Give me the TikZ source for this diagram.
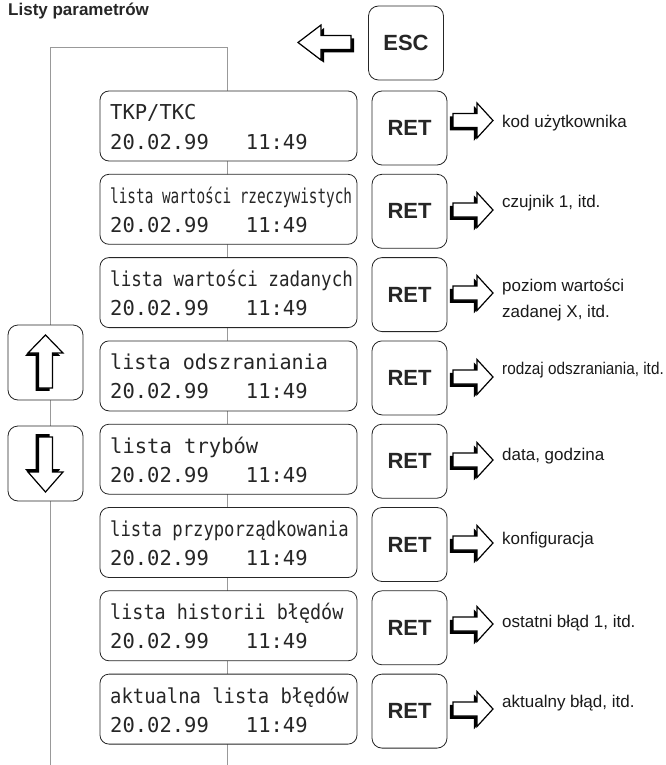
\documentclass[tikz,border=0pt]{standalone}
\usepackage{fontspec}
\setmainfont{Liberation Sans}
\newfontfamily\lcdfont{DejaVu Sans Mono}
\usepackage{graphicx}

% outline of a block arrow: length #1, head length #2
\newcommand\arrowpath[2]{(0,-7) -- (#1-#2,-7) -- (#1-#2,-17.5) -- (#1,0) -- (#1-#2,17.5) -- (#1-#2,7) -- (0,7) -- cycle}
% block arrow with a drop shadow: #1 base point, #2 rotation, #3 length, #4 head length, #5/#6 shadow offset
\newcommand\barrow[6]{%
  \begin{scope}[shift={#1},shift={(#5,#6)},rotate=#2]
    \fill[black] \arrowpath{#3}{#4};
  \end{scope}
  \begin{scope}[shift={#1},rotate=#2]
    \filldraw[arrowface] \arrowpath{#3}{#4};
  \end{scope}}

% one menu row: #1 index, #2 first display line, #3 horizontal squeeze,
% #4 arrow offset, #5 side text, #6 side text offset
\newcommand\menurow[6]{%
  \pgfmathsetmacro\rtop{91+83.3*#1}
  \node[panel] (lcd#1) at (228.5,\rtop+35) {};
  \node[lcdtext] (lineA#1) at (110,\rtop+29) {\scalebox{#3}[1]{#2}};
  \node[lcdtext] (lineB#1) at (110,\rtop+58) {20.02.99\ \ \ 11:49};
  \node[keycap] (ret#1) at (409.5,\rtop+37) {RET};
  \barrow{(453,\rtop+#4)}{0}{40}{16}{-3.2}{2.8}
  \node[sidetext] (info#1) at (502,\rtop+#6) {#5};
}

\begin{document}
\begin{tikzpicture}[x=1pt,y=-1pt,
  panel/.style={draw=black!85, line width=0.8pt, rounded corners=9pt, fill=white,
    minimum width=257pt, minimum height=70pt, inner sep=0pt},
  keycap/.style={draw=black!85, line width=0.8pt, rounded corners=10pt, fill=white,
    minimum width=75pt, minimum height=74pt, inner sep=0pt,
    font=\fontsize{22}{24}\selectfont\bfseries, text=black!85},
  lcdtext/.style={anchor=base west, inner sep=0pt,
    font=\lcdfont\fontsize{20.5}{22}\selectfont, text=black!85},
  sidetext/.style={anchor=west, inner sep=0pt, align=left,
    font=\fontsize{17}{26}\selectfont, text=black!90},
  guide/.style={draw=black!40, line width=1pt},
  arrowface/.style={fill=white, draw=black, line width=1.2pt, line join=miter},
]
\useasboundingbox (0,0) rectangle (666,765);

% title
\node[anchor=base west, inner sep=0pt, font=\fontsize{17}{20}\selectfont\bfseries, text=black!85]
  (title) at (8,16) {Listy parametrów};

% navigation frame behind the displays
\coordinate (gtl) at (50,48);
\coordinate (gtr) at (227,48);
\coordinate (gbl) at (50,765);
\coordinate (gbr) at (227,765);
\draw[guide] (gbl) -- (gtl) -- (gtr) -- (gbr);

% ESC key and its arrow
\node[keycap] (esc) at (406,43) {ESC};
\barrow{(351,42.5)}{180}{53}{23}{3.2}{2.8}

% up / down keys
\node[keycap, minimum height=75pt] (up) at (45.5,362.5) {};
\node[keycap, minimum height=75pt] (down) at (45.5,463.5) {};
\barrow{(45.5,388)}{90}{53}{18}{-2.8}{2.8}
\barrow{(45.5,437)}{-90}{55}{20}{-2.8}{-2.8}

% menu rows
\menurow{0}{TKP/TKC}{1}{29.5}{kod użytkownika}{32}
\menurow{1}{lista wartości rzeczywistych}{0.70}{35.7}{czujnik 1, itd.}{29}
\menurow{2}{lista wartości zadanych}{0.855}{35.4}{poziom wartości\\zadanej X, itd.}{42.4}
\menurow{3}{lista odszraniania}{0.98}{36.1}{\scalebox{0.9}[1]{rodzaj odszraniania, itd.}}{29.1}
\menurow{4}{lista trybów}{1}{35.8}{data, godzina}{31.8}
\menurow{5}{lista przyporządkowania}{0.84}{35.5}{konfiguracja}{32.5}
\menurow{6}{lista historii błędów}{0.90}{33.2}{ostatni błąd 1, itd.}{32.2}
\menurow{7}{aktualna lista błędów}{0.92}{34.9}{aktualny błąd, itd.}{28.9}

\end{tikzpicture}
\end{document}
